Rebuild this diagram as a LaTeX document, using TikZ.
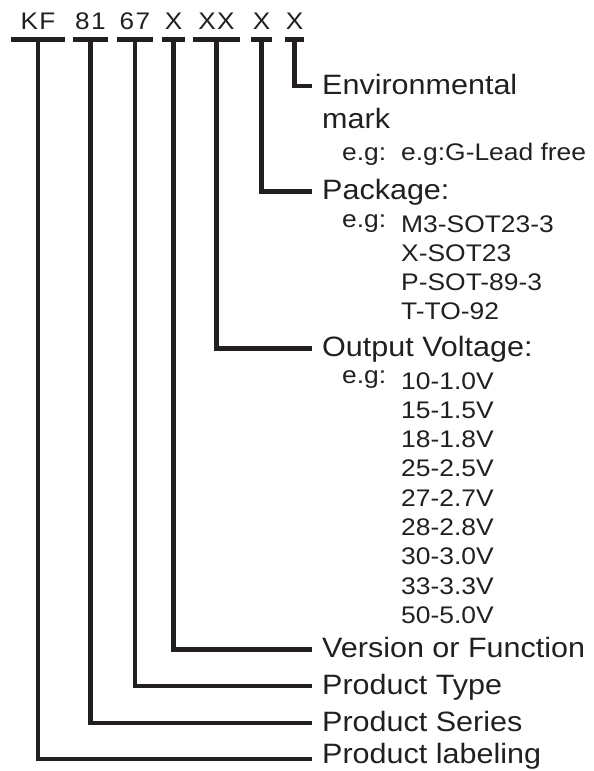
\documentclass[tikz,border=0pt]{standalone}
\usepackage{fontspec}
\newfontfamily\labfont[FakeStretch=1.09]{Liberation Sans}
\newfontfamily\codefont[FakeStretch=1.09,LetterSpace=6]{Liberation Sans}
\newfontfamily\egfont[FakeStretch=1.1]{Liberation Sans}
\definecolor{ink}{RGB}{35,31,32}
\tikzset{
	code/.style={anchor=base, inner xsep=0pt, inner ysep=10pt, text depth=0pt, font=\codefont\fontsize{24}{26}\selectfont},
	bar/.style={line width=4.7pt},
	wire/.style={line width=4.7pt},
	lab/.style={anchor=west, inner xsep=10pt, inner ysep=0pt, text height=21pt, text depth=5pt, font=\labfont\fontsize{28}{32}\selectfont},
	sub/.style={anchor=base west, inner sep=0pt, font=\labfont\fontsize{28}{32}\selectfont},
	ex/.style={anchor=base west, inner sep=0pt, font=\egfont\fontsize{24}{28}\selectfont}
}
\begin{document}
\begin{tikzpicture}[x=1pt, y=-1pt, color=ink]
	\useasboundingbox (0,0) rectangle (594,771);
	% part number
	\node[code, minimum width=54pt] (kf) at (38,29) {KF};
	\node[code, minimum width=35pt] (ser) at (90.5,29) {81};
	\node[code, minimum width=35pt] (typ) at (135,29) {67};
	\node[code, minimum width=23pt] (ver) at (173.5,29) {X};
	\node[code, minimum width=47pt] (out) at (216.5,29) {XX};
	\node[code, minimum width=20pt] (pkg) at (261.5,29) {X};
	\node[code, minimum width=18pt] (env) at (294.5,29) {X};
	\foreach \n in {kf,ser,typ,ver,out,pkg,env}
		\draw[bar] (\n.south west) -- (\n.south east);
	% fields
	\node[lab] (env-lab) at (312,86) {Environmental};
	\node[sub] (env-mark) at (322,128) {mark};
	\node[ex] (env-eg) at (342,160) {e.g:};
	\node[ex] (env-ex) at (401,160) {e.g:G-Lead free};
	\node[lab] (pkg-lab) at (312,191.5) {Package:};
	\node[ex] (pkg-eg) at (342,227) {e.g:};
	\foreach \v [count=\i from 0] in {M3-SOT23-3,X-SOT23,P-SOT-89-3,T-TO-92}
		\node[ex] (pkg-\i) at (401,{232+29.3*\i}) {\v};
	\node[lab] (out-lab) at (312,348.5) {Output Voltage:};
	\node[ex] (out-eg) at (342,383) {e.g:};
	\foreach \v [count=\i from 0] in {10-1.0V,15-1.5V,18-1.8V,25-2.5V,27-2.7V,28-2.8V,30-3.0V,33-3.3V,50-5.0V}
		\node[ex] (out-\i) at (401,{389+29.3*\i}) {\v};
	\node[lab] (ver-lab) at (312,649.5) {Version or Function};
	\node[lab] (typ-lab) at (312,686) {Product Type};
	\node[lab] (ser-lab) at (312,723) {Product Series};
	\node[lab, text height=15pt, text depth=6pt] (kf-lab) at (312,759) {Product labeling};
	% connectors
	\foreach \n in {kf,ser,typ,ver,out,pkg,env}
		\draw[wire] (\n.south) |- (\n-lab.west);
\end{tikzpicture}
\end{document}
